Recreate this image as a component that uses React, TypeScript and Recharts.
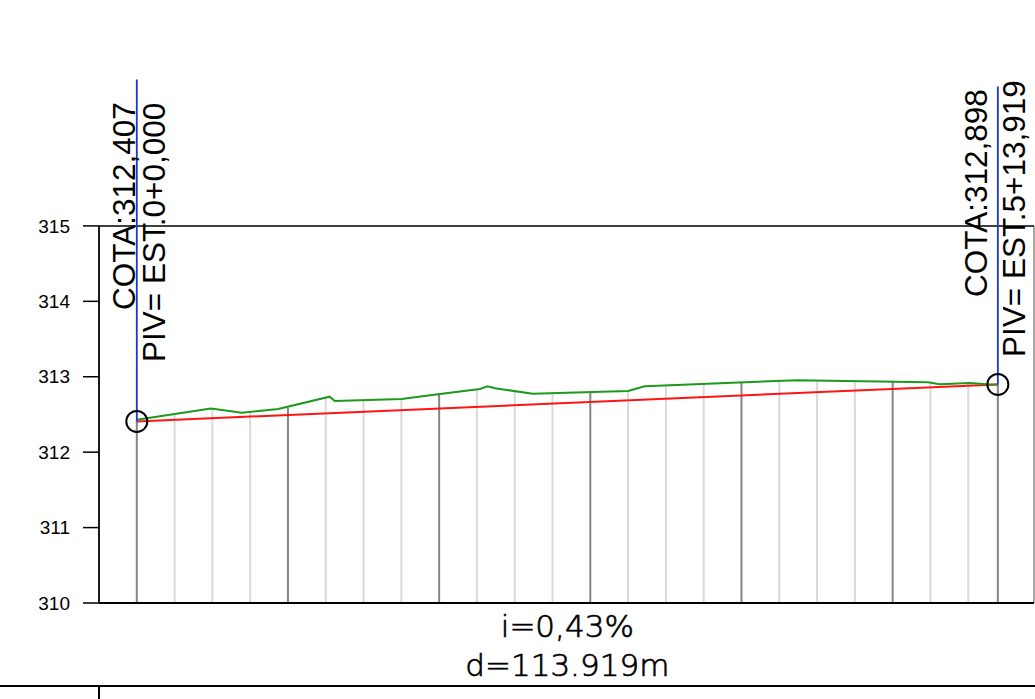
import React from 'react';
import { ComposedChart, Line, XAxis, YAxis, ReferenceLine, ReferenceDot } from 'recharts';

// Elevation axis ticks (m)
const yTicks = [310, 311, 312, 313, 314, 315];

// Terrain profile (green): station (m) and elevation (m)
const terrainSt = [0, 9.8, 13.9, 18.7, 25.5, 26.2, 35.0, 40.1, 45.4, 46.4, 47.4, 52.4, 54.6, 65.0, 67.2, 87.3, 104.7, 106.2, 110.2, 112.4, 113.919];
const terrainZ = [312.43, 312.58, 312.524, 312.573, 312.736, 312.679, 312.705, 312.772, 312.838, 312.874, 312.847, 312.776, 312.78, 312.812, 312.874, 312.954, 312.927, 312.9, 312.918, 312.9, 312.898];

// Design grade (red): PIV stations and elevations
const pivSt = [0, 113.919];
const pivZ = [312.407, 312.898];

// Station grid lines: station and top elevation (terrain at that station)
const gridSt = [0, 5, 10, 15, 20, 25, 30, 35, 40, 45, 50, 55, 60, 65, 70, 75, 80, 85, 90, 95, 100, 105, 110, 113.919];
const gridTop = [312.407, 312.5, 312.58, 312.535, 312.59, 312.72, 312.69, 312.705, 312.77, 312.83, 312.81, 312.78, 312.795, 312.81, 312.88, 312.9, 312.92, 312.945, 312.95, 312.94, 312.935, 312.92, 312.915, 312.898];
const majorSt = [0, 20, 40, 60, 80, 100, 113.919];

// Blue PIV marker line top elevations
const pivTop = [316.94, 316.85];

const X_MIN = -5;
const X_MAX = 118.7;
const Y_MIN = 310;
const Y_MAX = 317.2;

const terrainData = terrainSt.map((st, i) => ({ st, z: terrainZ[i] }));
const gradeData = pivSt.map((st, i) => ({ st, z: pivZ[i] }));

const fmt3 = (v: number) => v.toFixed(3).replace('.', ',');
const estLabel = (st: number) => {
  const n = Math.floor(st / 20 + 1e-9);
  return `PIV= EST.${n}+${fmt3(st - n * 20)}`;
};

const slopePct = ((pivZ[1] - pivZ[0]) / (pivSt[1] - pivSt[0])) * 100;
const dist = pivSt[1] - pivSt[0];

const ARIAL = '"Liberation Sans", Arial, sans-serif';

// per-label placement (pixel offsets relative to line x and circle centre)
const labelPos = [
  { cotaDx: -2, cotaDy: -111.5, pivDx: 28, pivDy: -59.5 },
  { cotaDx: -11, cotaDy: -87.5, pivDx: 27, pivDy: -27.5 },
];

const makePivShape = (idx: number) => (p: any) => {
  const x = p.x1;
  const yb = Math.max(p.y1, p.y2);
  const pos = labelPos[idx];
  return (
    <g>
      <line x1={p.x1} y1={p.y1} x2={p.x2} y2={p.y2} stroke="#1838d0" strokeWidth={1.8} />
      <text
        transform={`translate(${x + pos.cotaDx},${yb + pos.cotaDy}) rotate(-90)`}
        fontSize={31.5}
        fontFamily={ARIAL}
        fill="#000"
        textAnchor="start"
      >
        {`COTA:${fmt3(pivZ[idx])}`}
      </text>
      <text
        transform={`translate(${x + pos.pivDx},${yb + pos.pivDy}) rotate(-90)`}
        fontSize={31.5}
        fontFamily={ARIAL}
        fill="#000"
        textAnchor="start"
      >
        {estLabel(pivSt[idx])}
      </text>
    </g>
  );
};

const bottomTextShape = (p: any) => {
  const cx = (p.x1 + p.x2) / 2;
  const y = p.y1;
  const f = '"DejaVu Sans", sans-serif';
  return (
    <g>
      <text x={cx} y={y + 34} textAnchor="middle" fontSize={31} fontWeight={200} fontFamily={f} fill="#000" stroke="#000" strokeWidth={0.7}>
        {`i=${slopePct.toFixed(2).replace('.', ',')}%`}
      </text>
      <text x={cx} y={y + 73} textAnchor="middle" fontSize={31} fontWeight={200} fontFamily={f} fill="#000" stroke="#000" strokeWidth={0.7}>
        {`d=${dist.toFixed(3)}m`}
      </text>
    </g>
  );
};

export default function App() {
  return (
    <div style={{ position: 'absolute', left: 0, top: 0, width: 1035, height: 699, background: '#fff', overflow: 'hidden' }}>
      <ComposedChart width={1035} height={699} margin={{ top: 60, right: 1, bottom: 96, left: 0 }}>
        <XAxis type="number" dataKey="st" domain={[X_MIN, X_MAX]} hide allowDataOverflow />
        <YAxis
          type="number"
          domain={[Y_MIN, Y_MAX]}
          ticks={yTicks}
          interval={0}
          width={99}
          axisLine={false}
          tickSize={16}
          tickMargin={13}
          tickLine={{ stroke: '#000', strokeWidth: 1.5 }}
          tick={{ fill: '#000', fontSize: 19, fontFamily: ARIAL }}
          allowDataOverflow
        />

        {gridSt.map((st, i) => {
          const major = majorSt.includes(st);
          return (
            <ReferenceLine
              key={`g${i}`}
              segment={[{ x: st, y: Y_MIN }, { x: st, y: gridTop[i] }]}
              stroke={major ? '#858585' : '#d9d9d9'}
              strokeWidth={2}
            />
          );
        })}

        <ReferenceLine segment={[{ x: X_MAX, y: Y_MIN }, { x: X_MAX, y: 315 }]} stroke="#8a8a8a" strokeWidth={1.5} />
        <ReferenceLine segment={[{ x: X_MIN, y: Y_MIN }, { x: X_MIN, y: 315 }]} stroke="#000" strokeWidth={1.8} />
        <ReferenceLine y={315} stroke="#000" strokeWidth={1.5} />
        <ReferenceLine y={310} stroke="#000" strokeWidth={1.8} />

        <Line data={gradeData} dataKey="z" type="linear" stroke="#ff1414" strokeWidth={2} dot={false} isAnimationActive={false} />
        <Line data={terrainData} dataKey="z" type="linear" stroke="#1c9a1c" strokeWidth={2} dot={false} isAnimationActive={false} />

        <ReferenceLine segment={[{ x: pivSt[0], y: pivZ[0] }, { x: pivSt[0], y: pivTop[0] }]} shape={makePivShape(0)} />
        <ReferenceLine segment={[{ x: pivSt[1], y: pivZ[1] }, { x: pivSt[1], y: pivTop[1] }]} shape={makePivShape(1)} />

        <ReferenceLine segment={[{ x: pivSt[0], y: Y_MIN }, { x: pivSt[1], y: Y_MIN }]} shape={bottomTextShape} />

        {pivSt.map((st, i) => (
          <ReferenceDot key={`c${i}`} x={st} y={pivZ[i]} r={10.5} fill="none" stroke="#000" strokeWidth={2} />
        ))}
      </ComposedChart>
      <div style={{ position: 'absolute', left: 0, top: 685, width: 1035, height: 0, borderTop: '2px solid #000' }} />
      <div style={{ position: 'absolute', left: 98, top: 686, width: 0, height: 13, borderLeft: '2px solid #000' }} />
    </div>
  );
}
